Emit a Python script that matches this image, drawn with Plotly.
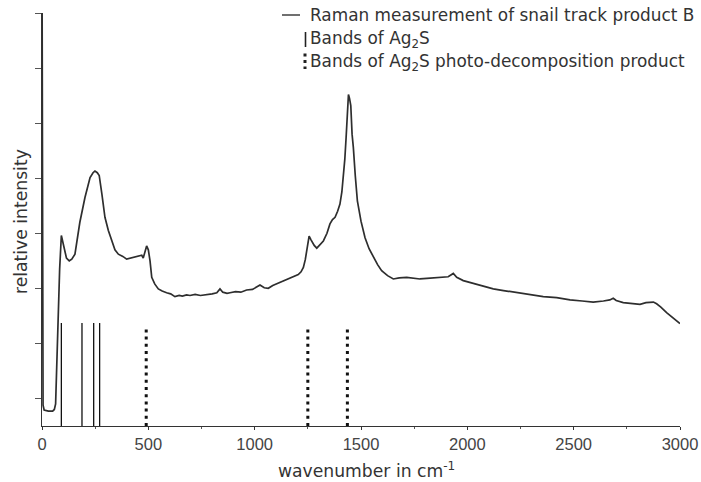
import plotly.graph_objects as go

# ---- data ----
wavenumber = [0, 3, 5, 10, 30, 50, 58, 64, 74, 83, 91, 100, 115, 128, 140, 155, 178, 202, 226, 240,
              249, 260, 269, 282, 296, 312, 328, 343, 359, 380, 398, 415, 429, 450, 469, 476, 484, 492,
              500, 508, 516, 530, 547, 565, 586, 605, 625, 645, 660, 680, 696, 720, 745, 775, 800, 822,
              837, 850, 870, 884, 910, 935, 962, 990, 1010, 1025, 1045, 1064, 1085, 1104, 1130, 1150,
              1166, 1185, 1205, 1218, 1229, 1238, 1245, 1251, 1256, 1265, 1280, 1292, 1305, 1323, 1340,
              1354, 1366, 1378, 1390, 1401, 1410, 1417, 1424, 1430, 1436, 1441, 1446, 1452, 1458, 1464,
              1473, 1483, 1500, 1519, 1538, 1558, 1578, 1597, 1625, 1652, 1680, 1715, 1745, 1777, 1810,
              1850, 1887, 1910, 1934, 1950, 1981, 2020, 2060, 2100, 2122, 2170, 2232, 2290, 2357, 2420,
              2483, 2540, 2592, 2640, 2670, 2686, 2700, 2733, 2770, 2812, 2840, 2859, 2875, 2890, 2910,
              2937, 2965, 3000]
intensity = [8.5, 2.4, 0.38, 0.29, 0.27, 0.27, 0.3, 0.4, 1.75, 2.85, 3.46, 3.28, 3.05, 3.0, 3.03, 3.12,
             3.70, 4.15, 4.51, 4.6, 4.63, 4.6, 4.55, 4.2, 3.79, 3.55, 3.36, 3.2, 3.12, 3.08, 3.03, 3.05,
             3.06, 3.08, 3.1, 3.05, 3.15, 3.27, 3.2, 3.0, 2.7, 2.58, 2.49, 2.45, 2.42, 2.4, 2.35, 2.37,
             2.36, 2.38, 2.37, 2.39, 2.37, 2.38, 2.4, 2.42, 2.49, 2.43, 2.41, 2.42, 2.44, 2.43, 2.47, 2.48,
             2.52, 2.56, 2.51, 2.5, 2.55, 2.58, 2.62, 2.66, 2.69, 2.71, 2.75, 2.8, 2.88, 3.02, 3.18, 3.38,
             3.45, 3.38, 3.28, 3.23, 3.28, 3.36, 3.5, 3.67, 3.75, 3.79, 3.9, 4.03, 4.25, 4.51, 4.85, 5.24,
             5.75, 6.02, 5.95, 5.82, 5.3, 5.06, 4.55, 4.09, 3.72, 3.42, 3.22, 3.06, 2.93, 2.82, 2.73, 2.67,
             2.69, 2.7, 2.68, 2.67, 2.68, 2.69, 2.7, 2.71, 2.77, 2.7, 2.64, 2.6, 2.56, 2.52, 2.49, 2.46,
             2.42, 2.39, 2.35, 2.33, 2.29, 2.27, 2.25, 2.27, 2.29, 2.32, 2.28, 2.24, 2.23, 2.21, 2.24, 2.25,
             2.25, 2.22, 2.16, 2.06, 1.97, 1.86]

ag2s_bands = [91, 188, 243, 271]
ag2s_band_height = 1.87
decomp_bands = [490, 1250, 1436]
decomp_band_height = 1.82

x_ticks = [0, 500, 1000, 1500, 2000, 2500, 3000]
y_ticks = [0.5, 1.5, 2.5, 3.5, 4.5, 5.5, 6.5, 7.5]

legend_labels = ["Raman measurement of snail track product B",
                 "Bands of Ag<sub>2</sub>S",
                 "Bands of Ag<sub>2</sub>S photo-decomposition product"]
x_title = "wavenumber in cm<sup>-1</sup>"
y_title = "relative intensity"

# ---- geometry ----
W, H = 701, 482
ML, MR, MT, MB = 42, 21, 13, 56


def px(xp):
    return (xp - ML) / (W - ML - MR)


def py(yp):
    return (H - MB - yp) / (H - MT - MB)


def band_xy(bands, h):
    xs, ys = [], []
    for b in bands:
        xs += [b, b, None]
        ys += [0, h, None]
    return xs, ys


fig = go.Figure()

bx, by = band_xy(ag2s_bands, ag2s_band_height)
fig.add_trace(go.Scatter(x=bx, y=by, mode="lines",
                         line=dict(color="#111111", width=1.3), showlegend=False, hoverinfo="skip"))
dx, dy = band_xy(decomp_bands, decomp_band_height)
fig.add_trace(go.Scatter(x=dx, y=dy, mode="lines",
                         line=dict(color="#111111", width=3, dash="3px,4.2px"),
                         showlegend=False, hoverinfo="skip"))
fig.add_trace(go.Scatter(x=wavenumber, y=intensity, mode="lines",
                         line=dict(color="#2e2e2e", width=1.7), showlegend=False))

legend_font = dict(family="DejaVu Sans", size=16.9, color="#333333")
text_font = dict(family="DejaVu Sans", size=17.2, color="#333333")
tick_font = dict(family="Liberation Sans", size=16.5, color="#444444")

annotations = []
rows_y = [15, 39, 62]
for lab, ry in zip(legend_labels, rows_y):
    annotations.append(dict(x=px(307.5), y=py(ry), xref="paper", yref="paper", text=lab,
                            showarrow=False, xanchor="left", yanchor="middle", font=legend_font))
annotations.append(dict(x=px(366), y=py(470), xref="paper", yref="paper", text=x_title,
                        showarrow=False, xanchor="center", yanchor="middle", font=text_font))
annotations.append(dict(x=px(21), y=py(222), xref="paper", yref="paper", text=y_title,
                        showarrow=False, xanchor="center", yanchor="middle", textangle=-90,
                        font=text_font))

shapes = [
    dict(type="line", xref="paper", yref="paper", x0=px(282), x1=px(300), y0=py(15), y1=py(15),
         line=dict(color="#222222", width=1.3)),
    dict(type="line", xref="paper", yref="paper", x0=px(305.5), x1=px(305.5), y0=py(32), y1=py(47),
         line=dict(color="#222222", width=1.6)),
    dict(type="line", xref="paper", yref="paper", x0=px(305), x1=px(305), y0=py(53.5), y1=py(69),
         line=dict(color="#222222", width=3, dash="3px,3.5px")),
]

fig.update_layout(
    width=W, height=H,
    margin=dict(l=ML, r=MR, t=MT, b=MB, pad=0, autoexpand=False),
    paper_bgcolor="white", plot_bgcolor="white",
    showlegend=False,
    annotations=annotations,
    shapes=shapes,
    xaxis=dict(range=[0, 3000], tickvals=x_ticks, ticktext=[str(v) for v in x_ticks],
               automargin=False,
               showline=True, linecolor="#333333", linewidth=1.2, ticks="outside", ticklen=3,
               tickwidth=1, tickcolor="#333333", showgrid=False, zeroline=False,
               tickfont=tick_font,
               minor=dict(ticks="outside", ticklen=2, tickwidth=1, tickcolor="#555555",
                          dtick=250, tick0=0)),
    yaxis=dict(range=[0, 7.5], tickvals=y_ticks, showticklabels=False, automargin=False,
               showline=True, linecolor="#333333", linewidth=1.4, ticks="outside", ticklen=6,
               tickwidth=1, tickcolor="#555555", showgrid=False, zeroline=False),
)

fig.write_html("out.html")
